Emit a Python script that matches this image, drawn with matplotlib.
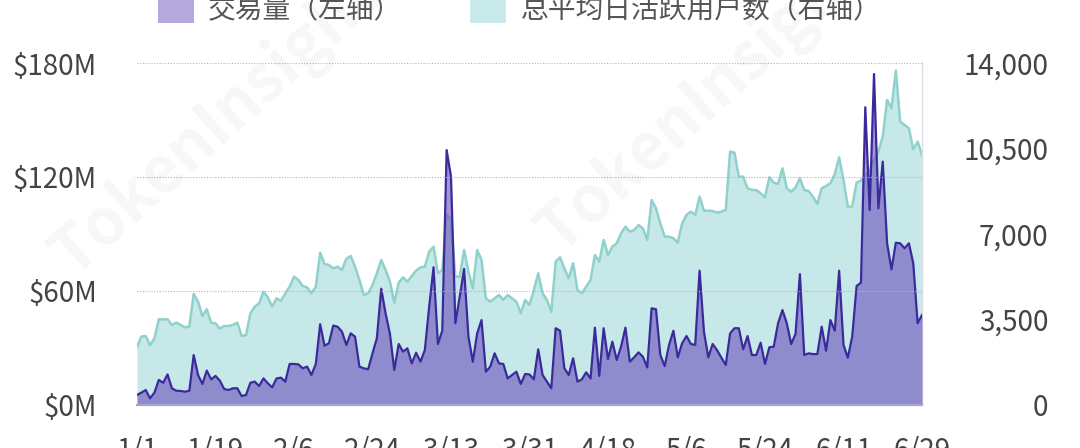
import matplotlib
matplotlib.use("Agg")
import matplotlib.pyplot as plt
import pandas as pd
from matplotlib.patches import Rectangle

plt.rcParams['font.family'] = ['Noto Sans CJK SC', 'DejaVu Sans']

# ── data ────────────────────────────────────────────────────────────────
dates = pd.date_range("2024-01-01", "2024-06-29", freq="D")

volume_m = [
    5.3, 6.5, 7.9, 3.5, 6.5, 13.2, 11.7, 16.1, 8.8, 7.5,
    7.4, 7.0, 7.5, 26.3, 15.8, 11.1, 18.1, 13.5, 15.3, 12.8,
    8.4, 7.9, 8.8, 8.8, 4.7, 5.3, 11.7, 12.3, 10.0, 14.0,
    11.4, 9.3, 14.0, 14.4, 12.3, 21.6, 21.6, 21.4, 19.3, 20.2,
    15.8, 21.6, 42.5, 31.2, 32.5, 41.8, 41.2, 38.6, 31.6, 37.7,
    36.0, 20.2, 19.3, 18.8, 27.2, 35.1, 61.2, 48.2, 37.4, 18.4,
    32.1, 28.1, 29.8, 21.9, 27.5, 22.8, 28.9, 51.8, 72.5, 32.1,
    39.1, 134.2, 120.2, 43.0, 57.0, 71.6, 36.0, 22.8, 37.7, 44.7,
    17.5, 20.2, 27.2, 21.9, 21.6, 14.0, 15.8, 17.5, 11.1, 16.3,
    16.1, 13.5, 29.3, 15.8, 12.3, 8.8, 40.4, 39.1, 19.3, 15.8,
    24.6, 12.3, 13.5, 17.2, 14.0, 40.7, 15.3, 40.4, 24.2, 33.3,
    23.7, 30.7, 40.7, 22.8, 25.1, 27.7, 25.4, 19.8, 50.9, 50.4,
    26.3, 20.5, 31.6, 39.1, 25.1, 32.5, 36.3, 32.1, 31.6, 70.7,
    38.6, 25.1, 32.1, 28.9, 24.9, 21.1, 37.7, 40.4, 40.4, 29.3,
    36.3, 26.3, 26.3, 32.8, 21.6, 30.4, 30.7, 43.0, 50.0, 43.0,
    32.1, 37.4, 68.9, 26.3, 27.2, 26.8, 26.8, 41.2, 28.6, 44.7,
    39.1, 70.7, 31.6, 24.9, 36.0, 62.6, 64.4, 156.7, 102.6, 174.2,
    103.5, 128.1, 85.1, 71.4, 85.4, 85.1, 82.5, 85.1, 74.6, 43.0,
    47.4,
]

dau = [
    2388, 2798, 2825, 2456, 2729, 3507, 3507, 3507, 3275, 3371,
    3275, 3180, 3207, 4544, 4230, 3644, 3916, 3371, 3343, 3125,
    3234, 3234, 3275, 3371, 2825, 2866, 3753, 4026, 4162, 4640,
    4408, 4026, 4367, 4258, 4572, 4845, 5254, 5118, 4872, 4817,
    4572, 4845, 6236, 5772, 5732, 5595, 5663, 5527, 5991, 6100,
    5663, 5118, 4503, 4572, 4913, 5390, 5936, 5527, 5049, 4190,
    5008, 5226, 5049, 5281, 5500, 5636, 5663, 6277, 6482, 5390,
    5527, 7800, 7600, 5254, 5254, 6346, 5459, 4776, 6346, 5936,
    4367, 4230, 4367, 4503, 4299, 4503, 4367, 4230, 3753, 4299,
    4094, 4708, 5390, 4572, 4299, 3821, 5868, 6045, 5595, 5186,
    5800, 4708, 4572, 4845, 5118, 6141, 5868, 6755, 6141, 6482,
    6619, 7028, 7301, 7097, 7165, 7369, 7232, 6755, 8393, 8051,
    7437, 6892, 6892, 6824, 6646, 7437, 7779, 7915, 7779, 8529,
    7956, 7956, 7942, 7874, 7915, 7983, 10371, 10330, 9348, 9348,
    8870, 8802, 8802, 8666, 8502, 9320, 9102, 9048, 9689, 8870,
    8734, 8911, 9280, 8802, 8761, 8529, 8229, 8870, 8966, 9075,
    9457, 10139, 9212, 8120, 8120, 9102, 9184, 9416, 9621, 10030,
    10371, 10985, 12487, 12146, 13688, 11600, 11463, 11327, 10467, 10781,
    10235,
]

left_ticks = [0, 60, 120, 180]
right_ticks = [0, 3500, 7000, 10500, 14000]
tick_dates = pd.date_range("2024-01-01", "2024-06-29", freq="18D")
legend_labels = ["交易量（左轴）", "总平均日活跃用户数（右轴）"]

# ── colours ─────────────────────────────────────────────────────────────
PURPLE_FILL = (0.43, 0.33, 0.75, 0.62)
PURPLE_LINE = "#3b2a9c"
TEAL_FILL = "#c7e8e8"
TEAL_LINE = "#8fd1cb"
TEXT = "#444444"

fig = plt.figure(figsize=(10.8, 4.48), dpi=100)
ax1 = fig.add_axes([137 / 1080, 1 - 405 / 448, 785 / 1080, 342 / 448])
ax2 = ax1.twinx()
ax1.set_zorder(ax2.get_zorder() + 1)
ax1.patch.set_visible(False)

# teal area (right axis)
ax2.fill_between(dates, dau, color=TEAL_FILL, linewidth=0)
ax2.plot(dates, dau, color=TEAL_LINE, linewidth=1.8)

# purple area (left axis)
ax1.fill_between(dates, volume_m, color=PURPLE_FILL, linewidth=0)
ax1.plot(dates, volume_m, color=PURPLE_LINE, linewidth=1.6)

ax1.set_xlim(dates[0], dates[-1])
ax1.set_ylim(0, 180)
ax2.set_ylim(0, 14000)

ax1.set_yticks(left_ticks)
ax1.set_yticklabels([f"${v}M" for v in left_ticks])
ax2.set_yticks(right_ticks)
ax2.set_yticklabels([f"{v:,}" for v in right_ticks])
ax1.set_xticks(tick_dates)
ax1.set_xticklabels([f"{d.month}/{d.day}" for d in tick_dates])

ax1.yaxis.grid(True, color="#b5b5b5", linestyle=(0, (1, 1.5)), linewidth=0.8)
ax1.set_axisbelow(False)

ax1.tick_params(axis="y", length=0, pad=29, labelsize=20, labelcolor=TEXT)
ax1.tick_params(axis="x", length=0, pad=22, labelsize=20, labelcolor=TEXT)
ax2.tick_params(axis="y", length=0, pad=91, labelsize=20, labelcolor=TEXT)
for lbl in ax2.get_yticklabels():
    lbl.set_horizontalalignment("right")
for lbl in ax1.get_xticklabels() + ax1.get_yticklabels() + ax2.get_yticklabels():
    lbl.set_fontweight("light")

for sp in ["top", "left", "right"]:
    ax1.spines[sp].set_visible(False)
ax1.spines["bottom"].set_color("#a9a2d8")
ax1.spines["bottom"].set_linewidth(1.6)
for sp in ["top", "left", "bottom"]:
    ax2.spines[sp].set_visible(False)
ax2.spines["right"].set_color("#dcdce6")
ax2.spines["right"].set_linewidth(1.0)

# ── legend (top, partly cut off) ────────────────────────────────────────
W, H = 1080, 448
for x0, col, label, tx in [(158, "#b4a8dc", legend_labels[0], 208),
                           (470, "#c9eaea", legend_labels[1], 521)]:
    fig.add_artist(Rectangle((x0 / W, 1 - 23 / H), 36 / W, 26 / H,
                             transform=fig.transFigure, color=col, lw=0))
    fig.text(tx / W, 1 - 10 / H, label, fontsize=20, color="#555555",
             va="center", ha="left", fontweight="light")

# faint watermark
for wx, wy in [(0.20, 0.72), (0.65, 0.77)]:
    fig.text(wx, wy, "TokenInsight", fontsize=46, fontweight="bold",
             color="#000000", alpha=0.035, rotation=42,
             ha="center", va="center", zorder=10)

fig.savefig("out.png", dpi=100)
